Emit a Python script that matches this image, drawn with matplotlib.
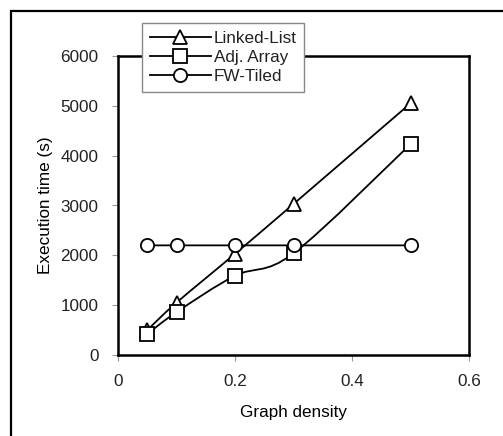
import numpy as np
import matplotlib
matplotlib.use("Agg")
import matplotlib.pyplot as plt
from matplotlib.path import Path
from matplotlib.patches import PathPatch, Rectangle
from matplotlib.lines import Line2D

plt.rcParams['font.family'] = ['Liberation Sans', 'DejaVu Sans']
plt.rcParams['font.size'] = 12.3
plt.rcParams['text.color'] = '#222222'

# data
density = [0.05, 0.1, 0.2, 0.3, 0.5]
linked_list = [500, 1050, 2030, 3030, 5050]
adj_array = [420, 860, 1590, 2040, 4230]
fw_tiled = [2200, 2200, 2200, 2200, 2200]

series = [("Linked-List", linked_list, "^"),
          ("Adj. Array", adj_array, "s"),
          ("FW-Tiled", fw_tiled, "o")]


def smooth_path(xs, ys):
    # Excel-style smoothed line: cubic bezier segments through the points
    pts = np.column_stack([xs, ys]).astype(float)
    n = len(pts)
    verts = [pts[0]]
    codes = [Path.MOVETO]
    for i in range(n - 1):
        p_prev = pts[i - 1] if i > 0 else pts[i]
        p_next = pts[i + 2] if i + 2 < n else pts[i + 1]
        c1 = pts[i] + (pts[i + 1] - p_prev) / 6.0
        c2 = pts[i + 1] - (p_next - pts[i]) / 6.0
        verts += [c1, c2, pts[i + 1]]
        codes += [Path.CURVE4] * 3
    return Path(verts, codes)


fig = plt.figure(figsize=(5.03, 4.36), dpi=100)
ax = fig.add_axes([118 / 503, 1 - 355 / 436, 351 / 503, 299 / 436])

handles = []
for name, vals, mk in series:
    ax.add_patch(PathPatch(smooth_path(density, vals), fill=False,
                           edgecolor='black', lw=1.3, zorder=2))
    ax.plot(density, vals, ls='none', marker=mk, ms=9.5, mfc='white',
            mec='black', mew=1.3, zorder=3)
    handles.append(Line2D([], [], color='black', lw=1.3, marker=mk, ms=9.5,
                          mfc='white', mec='black', mew=1.3))

ax.set_xlim(0, 0.6)
ax.set_ylim(0, 6000)
ax.set_xticks([0, 0.2, 0.4, 0.6])
ax.set_xticklabels(['0', '0.2', '0.4', '0.6'])
ax.set_yticks(range(0, 6001, 1000))
ax.tick_params(direction='out', length=4, width=0.8, color='#999999',
               labelcolor='#222222')
ax.tick_params(axis='x', pad=10)
ax.tick_params(axis='y', pad=10)
for sp in ax.spines.values():
    sp.set_linewidth(1.8)
ax.set_xlabel('Graph density', labelpad=11)
ax.set_ylabel('Execution time (s)', labelpad=5)

leg = fig.legend(handles, [s[0] for s in series], loc='upper left',
                 bbox_to_anchor=(142 / 503, 1 - 23 / 436), borderaxespad=0,
                 fancybox=False, framealpha=1, edgecolor='#888888',
                 handlelength=3.6, handletextpad=0.15, labelspacing=0.25,
                 borderpad=0.45)
leg.get_frame().set_linewidth(1.0)
leg.set_zorder(5)

# outer frame around the chart (left and top edges visible)
fig.add_artist(Rectangle((11 / 503, -0.1), 1.2, 1 - 11 / 436 + 0.1,
                         transform=fig.transFigure, fill=False,
                         edgecolor='black', lw=1.6))

fig.savefig('out.png', dpi=100)
